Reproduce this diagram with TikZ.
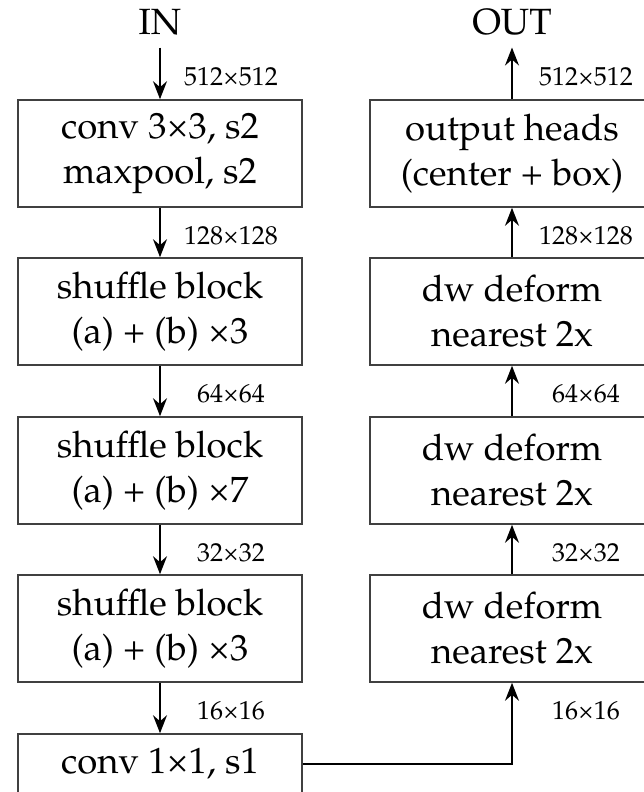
\documentclass[tikz,border=0pt]{standalone}
\usepackage[T1]{fontenc}
\usepackage{mathpazo}
\usepackage{textcomp}
\usetikzlibrary{arrows.meta}

\begin{document}
\begin{tikzpicture}[x=1pt,y=1pt,
  layer/.style={draw=black!75, line width=1.6pt, minimum width=284pt,
    minimum height=107pt, align=center, inner sep=0pt,
    font=\fontsize{36.5}{45}\selectfont},
  io/.style={inner sep=0pt, outer sep=12pt, font=\fontsize{36.5}{45}\selectfont},
  size/.style={inner sep=0pt, font=\fontsize{26}{30}\selectfont},
  flow/.style={line width=1.6pt, -{Stealth[length=18pt,width=14pt,inset=6pt]}}]
\clip (0,0) rectangle (644,-792);
% backbone
\node[io] (in) at (160,-22.5) {IN};
\node[layer] (b1) at (160,-153.5) {conv 3\texttimes3, s2\\maxpool, s2};
\node[layer] (b2) at (160,-311.5) {shuffle block\\(a) + (b) \texttimes3};
\node[layer] (b3) at (160,-470.5) {shuffle block\\(a) + (b) \texttimes7};
\node[layer] (b4) at (160,-628.5) {shuffle block\\(a) + (b) \texttimes3};
\node[layer, minimum height=60pt] (b5) at (160,-764) {conv 1\texttimes1, s1};
% upsampling head
\node[io] (out) at (512,-22.5) {OUT};
\node[layer] (h1) at (512,-153.5) {output heads\\(center + box)};
\node[layer] (h2) at (512,-311.5) {dw deform\\nearest 2x};
\node[layer] (h3) at (512,-470.5) {dw deform\\nearest 2x};
\node[layer] (h4) at (512,-628.5) {dw deform\\nearest 2x};
% arrows
\draw[flow] (in) -- (b1);
\draw[flow] (b1) -- (b2);
\draw[flow] (b2) -- (b3);
\draw[flow] (b3) -- (b4);
\draw[flow] (b4) -- (b5);
\draw[flow] (b5.east) -| (h4.south);
\draw[flow] (h4) -- (h3);
\draw[flow] (h3) -- (h2);
\draw[flow] (h2) -- (h1);
\draw[flow] (h1) -- (out);
% feature map sizes
\foreach \i/\y/\s in {0/76.5/512, 1/235.5/128, 2/394/64, 3/552.5/32, 4/711/16} {
  \node[size] (sl\i) at (231,-\y) {\s\texttimes\s};
  \node[size] (sr\i) at (586,-\y) {\s\texttimes\s};
}
\end{tikzpicture}
\end{document}
